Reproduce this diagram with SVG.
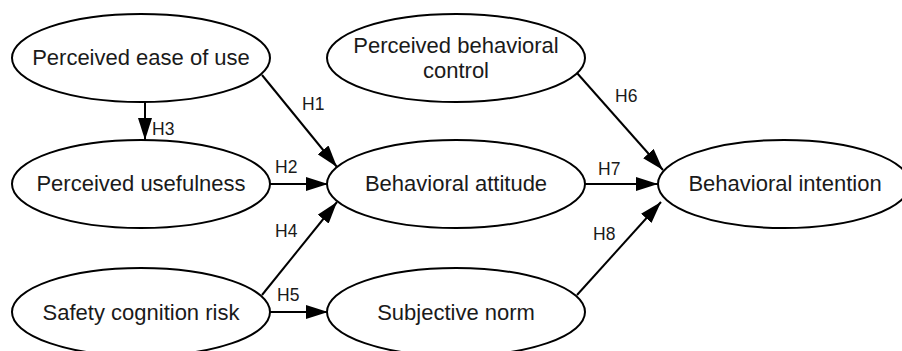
<svg xmlns="http://www.w3.org/2000/svg" width="902" height="351" viewBox="0 0 902 351">
<defs>
<style>
.node ellipse{fill:#fff;stroke:#000;stroke-width:2}
.node text{font-family:"Liberation Sans",Arial,sans-serif;font-size:22px;fill:#1a1a1a;text-anchor:middle}
.edges line{stroke:#000;stroke-width:2;marker-end:url(#ah)}
.lbl{font-family:"Liberation Sans",Arial,sans-serif;font-size:17.5px;fill:#1a1a1a}
</style>
<marker id="ah" markerUnits="userSpaceOnUse" markerWidth="24" markerHeight="14" refX="22" refY="7" orient="auto">
<path d="M0,0 L22,7 L0,14 Z" fill="#000"/>
</marker>
</defs>
<rect width="902" height="351" fill="#fff"/>
<g class="edges">
<line x1="145" y1="102" x2="145" y2="140"/>
<line x1="262" y1="75" x2="337" y2="167"/>
<line x1="270" y1="184" x2="328" y2="184"/>
<line x1="262" y1="295" x2="337" y2="202"/>
<line x1="270" y1="312" x2="328" y2="312"/>
<line x1="577" y1="73" x2="663" y2="170"/>
<line x1="585" y1="184" x2="658" y2="184"/>
<line x1="577" y1="295" x2="661" y2="202"/>
</g>
<g id="peou" class="node"><ellipse cx="141" cy="58" rx="129" ry="44"/><text x="141" y="65">Perceived ease of use</text></g>
<g id="pu" class="node"><ellipse cx="141" cy="184" rx="129" ry="44"/><text x="141" y="191">Perceived usefulness</text></g>
<g id="scr" class="node"><ellipse cx="141" cy="312" rx="129" ry="44"/><text x="141" y="320">Safety cognition risk</text></g>
<g id="pbc" class="node"><ellipse cx="456" cy="58" rx="129" ry="44"/><text x="456" y="53">Perceived behavioral</text><text x="456" y="78">control</text></g>
<g id="ba" class="node"><ellipse cx="456" cy="184" rx="129" ry="44"/><text x="456" y="191">Behavioral attitude</text></g>
<g id="sn" class="node"><ellipse cx="456" cy="312" rx="129" ry="44"/><text x="456" y="320">Subjective norm</text></g>
<g id="bi" class="node"><ellipse cx="784" cy="184" rx="126" ry="44"/><text x="785" y="191">Behavioral intention</text></g>
<g id="labels">
<text class="lbl" x="302" y="110">H1</text>
<text class="lbl" x="275" y="173">H2</text>
<text class="lbl" x="152" y="135">H3</text>
<text class="lbl" x="275" y="237">H4</text>
<text class="lbl" x="277" y="301">H5</text>
<text class="lbl" x="615" y="102">H6</text>
<text class="lbl" x="598" y="175">H7</text>
<text class="lbl" x="593" y="240">H8</text>
</g>
</svg>
